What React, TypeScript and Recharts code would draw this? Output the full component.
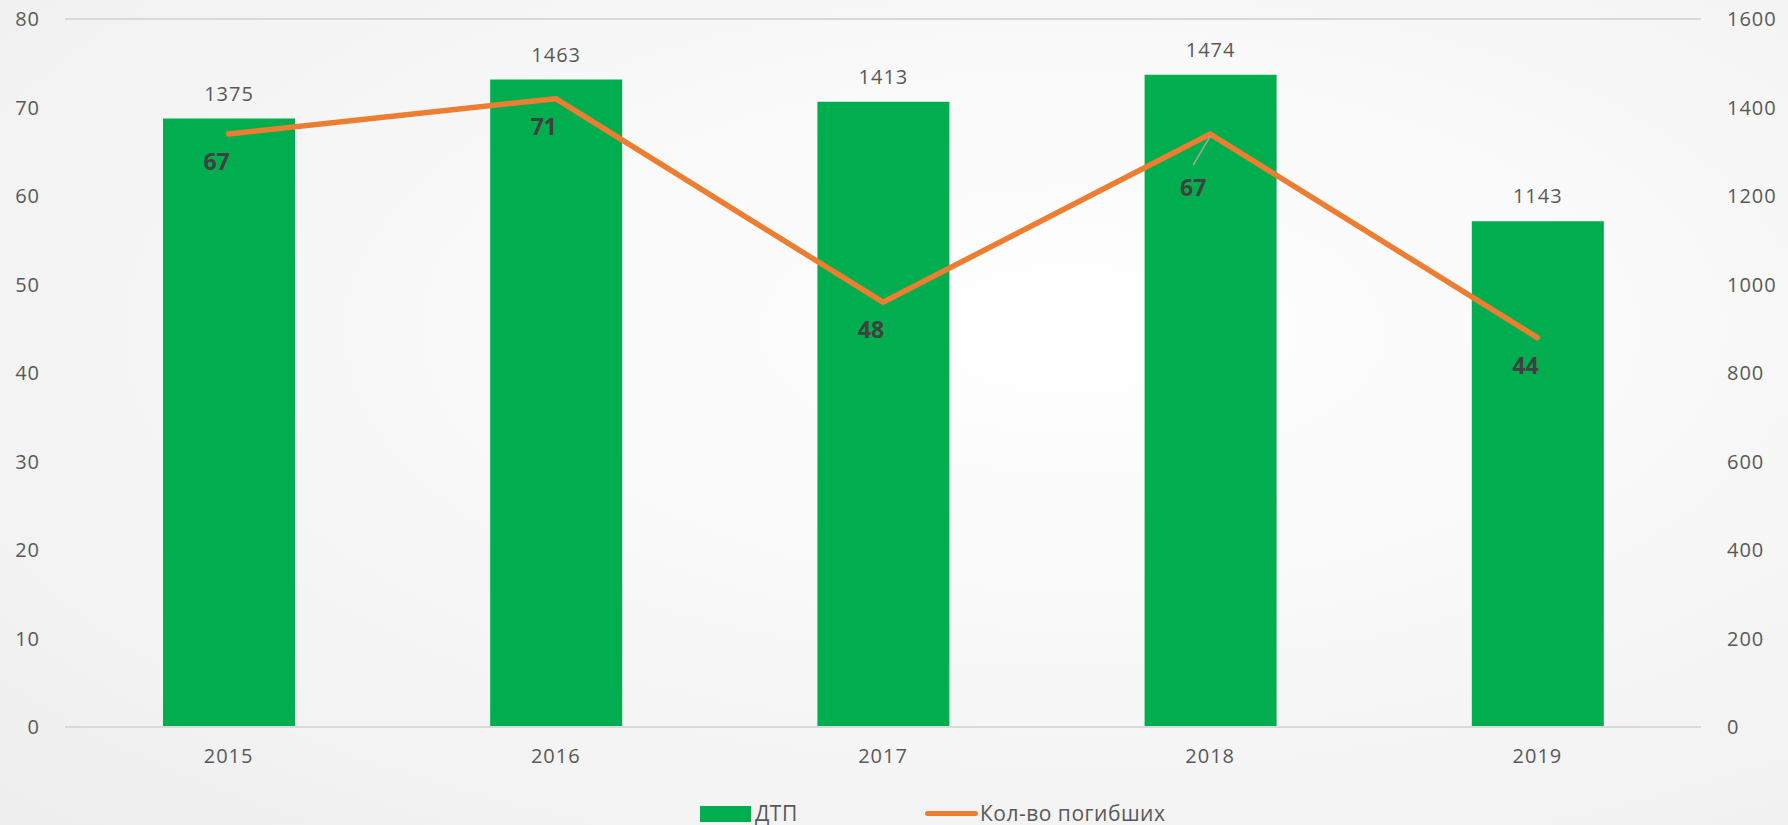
import React from 'react';
import {
  ComposedChart, Bar, Line, XAxis, YAxis, CartesianGrid, Legend, LabelList,
} from 'recharts';

const years = ['2015', '2016', '2017', '2018', '2019'];
const accidents = [1375, 1463, 1413, 1474, 1143];
const deaths = [67, 71, 48, 67, 44];
const leftTicks = [0, 10, 20, 30, 40, 50, 60, 70, 80];
const rightTicks = [0, 200, 400, 600, 800, 1000, 1200, 1400, 1600];

const data = years.map((year, i) => ({ year, accidents: accidents[i], deaths: deaths[i] }));

const FONT = '"Open Sans", "DejaVu Sans", sans-serif';
const GREEN = '#00AE4F';
const ORANGE = '#ED7D31';
const GRAY = '#595959';

// labels under the line points, the 2018 one is pushed down with a leader line
const DeathLabel = (props: any) => {
  const { x, y, value, index } = props;
  const pulled = index === 3;
  const lx = x - (pulled ? 17 : 12);
  const ly = y + (pulled ? 53 : 27);
  return (
    <g>
      {pulled && <line x1={x} y1={y + 2} x2={x - 17} y2={y + 31} stroke="#a6a6a6" strokeWidth={1.5} />}
      <text x={lx} y={ly} textAnchor="middle" dominantBaseline="central"
        fill="#404040" fontFamily={FONT} fontWeight={700} fontSize={23}>
        {value}
      </text>
    </g>
  );
};

const LegendBox = () => (
  <div style={{ position: 'relative', height: 53, width: 1788, fontFamily: FONT, fontSize: 21, color: GRAY, letterSpacing: 0.5 }}>
    <div style={{ position: 'absolute', left: 700, top: 34, width: 51, height: 16, background: GREEN }} />
    <div style={{ position: 'absolute', left: 755, top: 27, lineHeight: '28px' }}>ДТП</div>
    <div style={{ position: 'absolute', left: 925, top: 39, width: 53, height: 5, borderRadius: 3, background: ORANGE }} />
    <div style={{ position: 'absolute', left: 980, top: 27, lineHeight: '28px' }}>Кол-во погибших</div>
  </div>
);

const tickStyle = { fill: GRAY, fontFamily: FONT, fontSize: 20, letterSpacing: 1 };

export default function App() {
  return (
    <div style={{
      position: 'absolute', left: 0, top: 0, width: 1788, height: 825,
      background: 'radial-gradient(ellipse at 60% 40%, #ffffff 0%, #f8f8f8 45%, #eeeeee 100%)',
    }}>
      <ComposedChart width={1788} height={825} data={data}
        margin={{ top: 19, right: 0, left: 0, bottom: 0 }}>
        <CartesianGrid vertical={false} stroke="#d9d9d9" strokeWidth={2} />
        <XAxis dataKey="year" axisLine={{ stroke: '#d9d9d9', strokeWidth: 2 }} tickLine={false}
          tickSize={0} tickMargin={22} height={45} tick={tickStyle} />
        <YAxis yAxisId="left" orientation="left" width={65} domain={[0, 80]} ticks={leftTicks}
          axisLine={false} tickLine={false} tickSize={0} tickMargin={25} interval={0}
          tick={tickStyle} />
        <YAxis yAxisId="right" orientation="right" width={87} domain={[0, 1600]} ticks={rightTicks}
          axisLine={false} tickLine={false} tickSize={0} tickMargin={26} interval={0}
          tick={{ ...tickStyle, textAnchor: 'start' }} />
        <Legend verticalAlign="bottom" content={<LegendBox />}
          wrapperStyle={{ left: 0, width: 1788, bottom: 0 }} />
        <Bar yAxisId="right" dataKey="accidents" name="ДТП" fill={GREEN} barSize={132}
          isAnimationActive={false}>
          <LabelList dataKey="accidents" position="top" offset={18}
            fill={GRAY} fontFamily={FONT} fontSize={20} letterSpacing={1} />
        </Bar>
        <Line yAxisId="left" dataKey="deaths" name="Кол-во погибших" stroke={ORANGE} strokeWidth={5.5}
          strokeLinecap="round" strokeLinejoin="round" dot={false} activeDot={false}
          isAnimationActive={false}>
          <LabelList dataKey="deaths" content={DeathLabel} />
        </Line>
      </ComposedChart>
    </div>
  );
}
